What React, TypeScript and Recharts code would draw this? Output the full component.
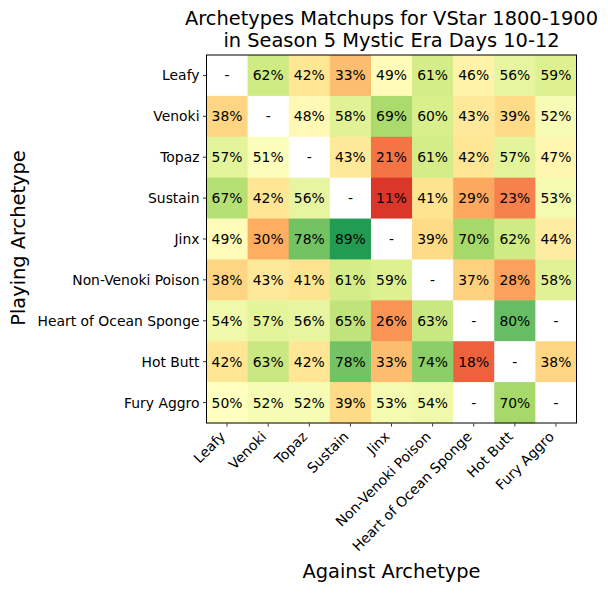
import React from 'react';
import { ScatterChart, Scatter, XAxis, YAxis } from 'recharts';

// row / column labels
const archetypes = [
  'Leafy',
  'Venoki',
  'Topaz',
  'Sustain',
  'Jinx',
  'Non-Venoki Poison',
  'Heart of Ocean Sponge',
  'Hot Butt',
  'Fury Aggro',
];

// win rate (%) of the playing archetype (row) against each column; null = no data
const leafy = [null, 62, 42, 33, 49, 61, 46, 56, 59];
const venoki = [38, null, 48, 58, 69, 60, 43, 39, 52];
const topaz = [57, 51, null, 43, 21, 61, 42, 57, 47];
const sustain = [67, 42, 56, null, 11, 41, 29, 23, 53];
const jinx = [49, 30, 78, 89, null, 39, 70, 62, 44];
const nonVenokiPoison = [38, 43, 41, 61, 59, null, 37, 28, 58];
const heartOfOceanSponge = [54, 57, 56, 65, 26, 63, null, 80, null];
const hotButt = [42, 63, 42, 78, 33, 74, 18, null, 38];
const furyAggro = [50, 52, 52, 39, 53, 54, null, 70, null];

const rows = [leafy, venoki, topaz, sustain, jinx, nonVenokiPoison, heartOfOceanSponge, hotButt, furyAggro];

const W = 608;
const H = 593;
const PLOT_LEFT = 206.5;
const PLOT_RIGHT = 576.5;
const PLOT_TOP = 55;
const PLOT_BOTTOM = 423;
const CELL_W = (PLOT_RIGHT - PLOT_LEFT) / archetypes.length;
const CELL_H = (PLOT_BOTTOM - PLOT_TOP) / archetypes.length;
const FONT = '"DejaVu Sans", sans-serif';

// matplotlib RdYlGn anchors
const RDYLGN = [
  '#a50026', '#d73027', '#f46d43', '#fdae61', '#fee08b', '#ffffbf',
  '#d9ef8b', '#a6d96a', '#66bd63', '#1a9850', '#006837',
];

const hex = (h: string) => [1, 3, 5].map(i => parseInt(h.slice(i, i + 2), 16));

const colorFor = (v: number) => {
  const t = Math.max(0, Math.min(1, v / 100)) * (RDYLGN.length - 1);
  const i = Math.min(Math.floor(t), RDYLGN.length - 2);
  const f = t - i;
  const a = hex(RDYLGN[i]);
  const b = hex(RDYLGN[i + 1]);
  const c = a.map((x, k) => Math.round(x + (b[k] - x) * f));
  return `rgb(${c[0]},${c[1]},${c[2]})`;
};

const cells = rows.flatMap((r, y) => r.map((v, x) => ({ x, y, v })));

const CellShape = (props: any) => {
  const { cx, cy, payload } = props;
  const v = payload.v;
  return (
    <g>
      <rect
        x={cx - CELL_W / 2}
        y={cy - CELL_H / 2}
        width={CELL_W + 0.5}
        height={CELL_H + 0.5}
        fill={v == null ? '#ffffff' : colorFor(v)}
      />
      <text
        x={cx}
        y={cy}
        dy={5}
        textAnchor="middle"
        fontSize={13.9}
        fontFamily={FONT}
        fill="#000"
      >
        {v == null ? '-' : `${v}%`}
      </text>
    </g>
  );
};

const XTick = (props: any) => {
  const { x, y, payload } = props;
  const ex = x - 1;
  const ey = y + 11;
  return (
    <text
      x={ex}
      y={ey}
      textAnchor="end"
      transform={`rotate(-45 ${ex} ${ey})`}
      fontSize={13.9}
      fontFamily={FONT}
      fill="#000"
    >
      {archetypes[payload.value]}
    </text>
  );
};

const YTick = (props: any) => {
  const { x, y, payload } = props;
  return (
    <text x={x} y={y} dy={5} textAnchor="end" fontSize={13.9} fontFamily={FONT} fill="#000">
      {archetypes[payload.value]}
    </text>
  );
};

const idx = archetypes.map((_, i) => i);

export default function App() {
  return (
    <div style={{ position: 'absolute', left: 0, top: 0, width: W, height: H, background: '#fff' }}>
      <ScatterChart
        width={W}
        height={H}
        margin={{ top: PLOT_TOP, right: W - PLOT_RIGHT, left: PLOT_LEFT - 200, bottom: 0 }}
      >
        <XAxis
          type="number"
          dataKey="x"
          domain={[-0.5, 8.5]}
          ticks={idx}
          interval={0}
          height={H - PLOT_BOTTOM}
          axisLine={false}
          tickLine={{ stroke: '#000', strokeWidth: 0.8 }}
          tickSize={3.5}
          tickMargin={0}
          tick={<XTick />}
        />
        <YAxis
          type="number"
          dataKey="y"
          domain={[-0.5, 8.5]}
          reversed
          ticks={idx}
          interval={0}
          width={200}
          axisLine={false}
          tickLine={{ stroke: '#000', strokeWidth: 0.8 }}
          tickSize={3.5}
          tickMargin={3.5}
          tick={<YTick />}
        />
        <Scatter data={cells} shape={<CellShape />} isAnimationActive={false} />
      </ScatterChart>
      <svg
        width={W}
        height={H}
        style={{ position: 'absolute', left: 0, top: 0, pointerEvents: 'none' }}
      >
        <rect
          x={PLOT_LEFT}
          y={PLOT_TOP}
          width={PLOT_RIGHT - PLOT_LEFT}
          height={PLOT_BOTTOM - PLOT_TOP}
          fill="none"
          stroke="#000"
          strokeWidth={1}
        />
        <text x={391.5} y={25} textAnchor="middle" fontSize={19.4} fontFamily={FONT} fill="#000">
          Archetypes Matchups for VStar 1800-1900
        </text>
        <text x={391.5} y={47} textAnchor="middle" fontSize={19.4} fontFamily={FONT} fill="#000">
          in Season 5 Mystic Era Days 10-12
        </text>
        <text x={391.5} y={578} textAnchor="middle" fontSize={19.4} fontFamily={FONT} fill="#000">
          Against Archetype
        </text>
        <text
          x={25}
          y={238}
          textAnchor="middle"
          transform="rotate(-90 25 238)"
          fontSize={19.4}
          fontFamily={FONT}
          fill="#000"
        >
          Playing Archetype
        </text>
      </svg>
    </div>
  );
}
